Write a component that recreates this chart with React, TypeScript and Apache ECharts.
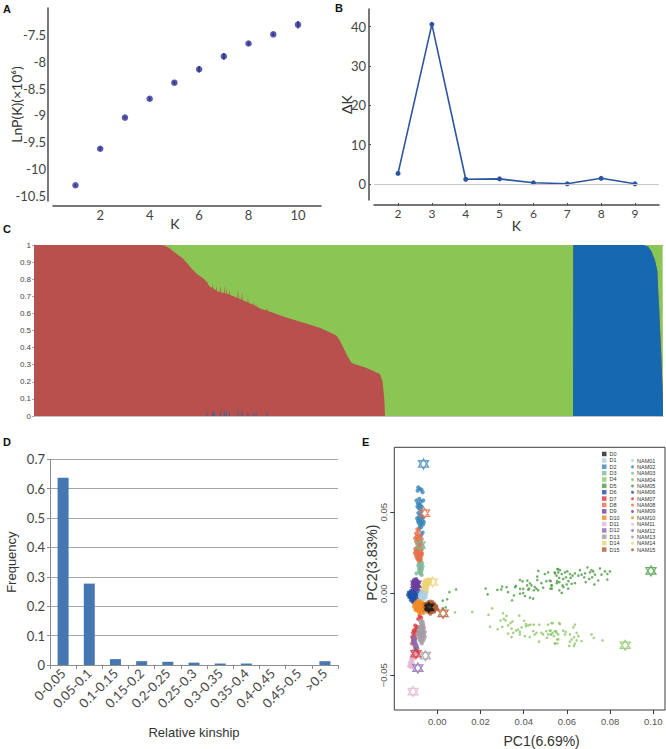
import React, { useEffect, useRef } from "react";
import * as echarts from "echarts";

// Panel A
const kA = [1, 2, 3, 4, 5, 6, 7, 8, 9, 10];
const lnP = [-10.3, -9.62, -9.04, -8.69, -8.39, -8.14, -7.9, -7.66, -7.49, -7.31];
const lnPErr = [0.02, 0.03, 0.02, 0.03, 0.03, 0.06, 0.06, 0.03, 0.03, 0.07];
const yTicksA = [-7.5, -8, -8.5, -9, -9.5, -10, -10.5];
const xTicksA = [2, 4, 6, 8, 10];

// Panel B
const kB = [2, 3, 4, 5, 6, 7, 8, 9];
const deltaK = [2.7, 40.6, 1.2, 1.3, 0.3, 0.05, 1.45, 0.05];
const yTicksB = [0, 10, 20, 30, 40];

// Panel C: sample rank, then the share of each ancestry at that rank (green is the remainder)
const sampleIdx = [
  0, 127, 131, 136, 141, 148, 153, 158, 163, 168, 171,
  172.5, 173, 173.5, 176, 178.2, 178.7, 179.2, 179.8, 180.3, 180.8,
  181.8, 182.3, 182.8, 185.8, 186.3, 186.8, 189.8, 190.3, 190.8,
  191.8, 192.3, 192.8, 195.2, 195.7, 196.2, 199.7,
  203.5, 204, 204.5, 207.5, 208, 208.5, 211.3,
  213.5, 214, 214.5, 219.2, 219.7, 220.2, 221.5, 222, 222.5, 228,
  232.5, 233, 233.5,
  243, 253, 263, 273, 286.3, 299.3, 302.6, 306, 309.3, 312.6, 317.6, 332.6, 346, 348.6, 350.3, 351,
  539, 539.3, 609.3, 614.3, 617.6, 621, 623.3, 624.3, 625, 626, 627.6, 628.6, 629,
];
const blueShare = [
  0, 0, 0, 0, 0, 0, 0, 0, 0, 0, 0,
  0, 0.025, 0, 0, 0, 0.035, 0, 0, 0.03, 0,
  0, 0, 0, 0, 0.045, 0, 0, 0.045, 0,
  0, 0.04, 0, 0, 0.03, 0, 0,
  0, 0.05, 0, 0, 0.045, 0, 0,
  0, 0.025, 0, 0, 0.025, 0, 0, 0.03, 0, 0,
  0, 0.03, 0,
  0, 0, 0, 0, 0, 0, 0, 0, 0, 0, 0, 0, 0, 0, 0, 0,
  0, 1, 1, 0.99, 0.96, 0.91, 0.85, 0.72, 0.65, 0.5, 0.3, 0.15, 0.05,
];
const redShare = [
  1, 1, 0.995, 0.98, 0.955, 0.925, 0.895, 0.86, 0.83, 0.81, 0.795,
  0.78, 0.77, 0.775, 0.755, 0.75, 0.74, 0.745, 0.742, 0.71, 0.74,
  0.735, 0.76, 0.73, 0.725, 0.72, 0.722, 0.72, 0.72, 0.717,
  0.717, 0.71, 0.713, 0.71, 0.71, 0.708, 0.7,
  0.69, 0.695, 0.688, 0.68, 0.68, 0.678, 0.67,
  0.665, 0.665, 0.663, 0.65, 0.64, 0.648, 0.642, 0.625, 0.64, 0.625,
  0.617, 0.605, 0.615,
  0.595, 0.575, 0.557, 0.54, 0.515, 0.48, 0.47, 0.44, 0.4, 0.36, 0.31, 0.28, 0.245, 0.2, 0.1, 0,
  0, 0, 0, 0, 0, 0, 0, 0, 0, 0.02, 0.02, 0, 0,
];
const yTicksC = [0, 0.1, 0.2, 0.3, 0.4, 0.5, 0.6, 0.7, 0.8, 0.9, 1];

// Panel D
const kinshipBins = ["0-0.05", "0.05-0.1", "0.1-0.15", "0.15-0.2", "0.2-0.25", "0.25-0.3", "0.3-0.35", "0.35-0.4", "0.4-0.45", "0.45-0.5", ">0.5"];
const kinshipFreq = [0.637, 0.277, 0.02, 0.013, 0.011, 0.008, 0.005, 0.005, 0, 0, 0.013];

// Panel E
const groupColors = ["#1a1a1a", "#a9cfe4", "#3a86b8", "#7fb89a", "#8cc665", "#4a9a41", "#1f4fa8", "#d8343a", "#e5704a", "#6a3d9a", "#f08a24", "#e2b6d0", "#8a6bb0", "#a39aa3", "#ecd377", "#b35a2a"];
const parentNames = ["D0", "D1", "D2", "D3", "D4", "D5", "D6", "D7", "D8", "D9", "D10", "D11", "D12", "D13", "D14", "D15"];
const parentPoints = [
  [-0.0039, -0.0084], [-0.007, -0.0008], [-0.0064, 0.0796], [-0.0079, 0.0298],
  [0.087, -0.0316], [0.0989, 0.014], [-0.0112, -0.0008], [-0.0099, -0.0368],
  [-0.0059, 0.0494], [-0.0099, 0.0058], [-0.0084, -0.0084], [-0.0112, -0.06],
  [-0.009, -0.0456], [-0.0055, -0.038], [-0.0022, 0.0072], [0.0027, -0.012],
];
const nam01 = [[-0.0082,0.0015],[-0.0072,0.002],[-0.0062,0.0018],[-0.0086,0.0005],[-0.0076,0.0008],[-0.0066,0.0006],[-0.0056,0.0005],[-0.0082,-0.0006],[-0.0072,-0.0006],[-0.0062,-0.0008],[-0.0052,-0.0006],[-0.0076,-0.0018],[-0.0066,-0.002],[-0.0056,-0.0018],[-0.007,-0.003],[-0.006,-0.0032]];
const nam02 = [[-0.0088,0.0652],[-0.008,0.0642],[-0.0091,0.0632],[-0.0068,0.0622],[-0.0073,0.0638],[-0.0065,0.0572],[-0.0083,0.0582],[-0.0096,0.0572],[-0.0075,0.0565],[-0.009,0.0555],[-0.0084,0.0548],[-0.0078,0.0542],[-0.0092,0.0535],[-0.0071,0.0532],[-0.0086,0.0525],[-0.008,0.0518],[-0.0074,0.0505],[-0.0088,0.0495],[-0.0079,0.0482],[-0.0072,0.0475],[-0.0085,0.047],[-0.0093,0.0462],[-0.0067,0.0465],[-0.0076,0.0458],[-0.0083,0.0452],[-0.0089,0.0445],[-0.007,0.0445],[-0.0062,0.044],[-0.0078,0.0438],[-0.0085,0.0432],[-0.0072,0.0428],[-0.0066,0.0425],[-0.008,0.042],[-0.0075,0.0408],[-0.0083,0.0402],[-0.0068,0.0375],[-0.0074,0.036]];
const nam03 = [[-0.008,0.0318],[-0.0072,0.0305],[-0.0086,0.029],[-0.0068,0.029],[-0.0078,0.0195],[-0.0086,0.019],[-0.007,0.0188],[-0.0081,0.018],[-0.0075,0.0175],[-0.0088,0.0172],[-0.0068,0.0168],[-0.0083,0.0162],[-0.0076,0.0158],[-0.0071,0.015],[-0.0085,0.0148],[-0.0079,0.0142],[-0.0074,0.0135],[-0.0082,0.013],[-0.0077,0.0122],[-0.0072,0.0115],[-0.0096,0.0125]];
const nam04 = [[0.0082,-0.0114],[0.0162,-0.0112],[0.0254,-0.009],[0.0237,-0.013],[0.0305,-0.012],[0.0321,-0.0136],[0.0308,-0.0154],[0.0293,-0.0164],[0.0316,-0.0164],[0.0379,-0.0134],[0.0244,-0.0202],[0.0279,-0.0218],[0.0301,-0.0204],[0.0328,-0.0194],[0.0348,-0.017],[0.0339,-0.018],[0.0344,-0.0214],[0.0328,-0.0244],[0.0344,-0.0266],[0.0351,-0.024],[0.0364,-0.0226],[0.0374,-0.022],[0.0382,-0.0234],[0.039,-0.0206],[0.0382,-0.025],[0.0405,-0.026],[0.0428,-0.0266],[0.0402,-0.0166],[0.041,-0.0186],[0.0421,-0.0194],[0.0431,-0.019],[0.0447,-0.019],[0.041,-0.02],[0.0444,-0.023],[0.0459,-0.024],[0.0451,-0.025],[0.0472,-0.019],[0.0482,-0.024],[0.049,-0.025],[0.0471,-0.0294],[0.0513,-0.019],[0.0528,-0.018],[0.0521,-0.0226],[0.0505,-0.023],[0.0513,-0.025],[0.0528,-0.025],[0.0544,-0.023],[0.0552,-0.024],[0.0508,-0.027],[0.0544,-0.0304],[0.0555,-0.028],[0.0564,-0.018],[0.0534,-0.018],[0.0568,-0.0186],[0.0637,-0.019],[0.063,-0.0206],[0.0525,-0.0226],[0.0534,-0.024],[0.055,-0.023],[0.0525,-0.025],[0.054,-0.026],[0.056,-0.025],[0.056,-0.028],[0.0583,-0.0226],[0.0594,-0.0234],[0.0591,-0.025],[0.0614,-0.025],[0.0645,-0.024],[0.0653,-0.026],[0.0633,-0.0266],[0.0622,-0.028],[0.0614,-0.0294],[0.0645,-0.0286],[0.0668,-0.029],[0.0637,-0.0306],[0.0611,-0.032],[0.0633,-0.032],[0.0545,-0.0306],[0.0556,-0.0304],[0.0714,-0.025],[0.0725,-0.027],[0.0765,-0.0286]];
const nam05 = [[0.0087,0.0026],[0.0056,0.001],[0.0046,-0.0034],[0.0025,-0.0042],[0.0039,-0.0084],[0.0025,-0.009],[0.0224,0.0032],[0.0233,-0.0004],[0.0278,0.0024],[0.0296,0.0026],[0.03,0.0044],[0.0321,0.004],[0.0327,0.001],[0.0355,-0.001],[0.0346,-0.004],[0.036,0.004],[0.0364,0.0048],[0.0383,0.003],[0.0398,0.003],[0.0383,0.0084],[0.0395,0.0076],[0.0417,0.008],[0.0429,0.0064],[0.0398,0.0004],[0.0383,0],[0.0406,-0.0014],[0.0429,-0.0024],[0.0444,-0.003],[0.0421,0.0025],[0.0451,0.0041],[0.0436,0.0051],[0.0459,0.0031],[0.0467,0.0021],[0.0463,0.0105],[0.0463,0.0084],[0.0468,0.014],[0.0482,0.0065],[0.0498,0.0121],[0.0513,0.0131],[0.0505,0.0077],[0.0521,0.0081],[0.0528,0.0051],[0.0524,0.0031],[0.049,0.0037],[0.0544,0.0131],[0.0552,0.0111],[0.0559,0.0151],[0.0555,0.0077],[0.0564,0.0097],[0.0416,0.0051],[0.0425,0.0031],[0.0447,0.0021],[0.0545,0.0125],[0.0556,0.0151],[0.0568,0.0145],[0.056,0.0131],[0.0576,0.0121],[0.0591,0.0131],[0.0602,0.0137],[0.0614,0.0121],[0.0626,0.0111],[0.0596,0.0101],[0.0583,0.0091],[0.0607,0.0077],[0.0617,0.0097],[0.0637,0.0125],[0.066,0.0145],[0.0653,0.0111],[0.0668,0.0117],[0.0684,0.0125],[0.0695,0.0161],[0.068,0.0101],[0.0707,0.0131],[0.0714,0.0145],[0.0722,0.0137],[0.0703,0.0091],[0.0717,0.0101],[0.073,0.0117],[0.0753,0.0155],[0.076,0.0117],[0.0776,0.0137],[0.0799,0.0137],[0.0787,0.0121],[0.0787,0.0087],[0.0745,0.0081],[0.0727,0.0057],[0.0687,0.0071],[0.0637,0.0065],[0.0622,0.0061],[0.0599,0.0057],[0.058,0.0051],[0.0565,0.0071],[0.0553,0.0065],[0.0525,0.0077],[0.053,0.0051],[0.053,0.0031],[0.0565,0.0021],[0.0576,0.0005],[0.0606,0.0031],[0.0584,0.0041]];
const nam06 = [[-0.0122,0.0018],[-0.0112,0.0022],[-0.0102,0.0018],[-0.0132,0.0005],[-0.0122,0.0005],[-0.0112,0.0008],[-0.0102,0.0005],[-0.0092,0.0005],[-0.0135,-0.0008],[-0.0125,-0.0006],[-0.0115,-0.0006],[-0.0105,-0.0008],[-0.0095,-0.0008],[-0.0128,-0.0018],[-0.0118,-0.0018],[-0.0108,-0.002],[-0.0098,-0.0018],[-0.012,-0.003],[-0.011,-0.003],[-0.01,-0.003],[-0.0122,-0.004],[-0.0112,-0.0042],[-0.0102,-0.0042],[-0.0112,-0.0052]];
const nam07 = [[-0.0082,-0.0135],[-0.0075,-0.0148],[-0.0088,-0.0155],[-0.0092,-0.0205],[-0.0102,-0.0195],[-0.0098,-0.0215],[-0.0108,-0.0225],[-0.0098,-0.0235],[-0.0112,-0.024],[-0.0105,-0.0255],[-0.0116,-0.0265],[-0.0102,-0.0275],[-0.0112,-0.0285],[-0.0116,-0.0305],[-0.0105,-0.0298],[-0.0106,-0.0348],[-0.0098,-0.0355],[-0.0104,-0.0368],[-0.0092,-0.036],[-0.0098,-0.0378]];
const nam08 = [[-0.0092,0.0395],[-0.0085,0.0385],[-0.0098,0.037],[-0.0088,0.036],[-0.0078,0.0355],[-0.0095,0.035],[-0.0102,0.034],[-0.0084,0.034],[-0.0072,0.0335],[-0.0092,0.033],[-0.0098,0.032],[-0.008,0.0325],[-0.0087,0.0315],[-0.0075,0.031],[-0.0093,0.0305],[-0.0083,0.0295],[-0.0102,0.0275],[-0.0095,0.028],[-0.0088,0.0272],[-0.008,0.0278],[-0.0072,0.027],[-0.0098,0.0262],[-0.009,0.026],[-0.0082,0.0258],[-0.0075,0.0255],[-0.0104,0.025],[-0.0094,0.0248],[-0.0086,0.0245],[-0.0078,0.0242],[-0.007,0.0245],[-0.0098,0.0235],[-0.009,0.0235],[-0.0082,0.023],[-0.0074,0.0232],[-0.0095,0.0222],[-0.0087,0.022],[-0.0079,0.0218],[-0.0091,0.021],[-0.0083,0.0205],[-0.0076,0.0208]];
const nam09 = [[-0.0108,0.0085],[-0.0098,0.009],[-0.0102,0.0078],[-0.0112,0.0072],[-0.0092,0.0078],[-0.0106,0.0065],[-0.0096,0.0065],[-0.0086,0.0068],[-0.0115,0.0058],[-0.0102,0.0055],[-0.009,0.0055],[-0.0108,0.0045],[-0.0097,0.0045],[-0.0086,0.0045],[-0.0112,0.0035],[-0.0102,0.0035],[-0.0092,0.0032],[-0.0098,0.0022],[-0.0088,0.002]];
const nam10 = [[-0.0088,-0.0042],[-0.0078,-0.0045],[-0.0098,-0.0052],[-0.0088,-0.0055],[-0.0078,-0.0055],[-0.0068,-0.0055],[-0.0105,-0.0065],[-0.0095,-0.0066],[-0.0085,-0.0066],[-0.0075,-0.0066],[-0.0065,-0.0068],[-0.0108,-0.0078],[-0.0098,-0.0078],[-0.0088,-0.0078],[-0.0078,-0.0078],[-0.0068,-0.0078],[-0.0102,-0.009],[-0.0092,-0.009],[-0.0082,-0.009],[-0.0072,-0.009],[-0.0062,-0.0088],[-0.0096,-0.0102],[-0.0086,-0.0102],[-0.0076,-0.0102],[-0.0066,-0.0102],[-0.0084,-0.0114],[-0.0074,-0.0116],[-0.0064,-0.0118]];
const nam11 = [[-0.0112,-0.0352],[-0.0105,-0.036],[-0.0118,-0.038],[-0.0108,-0.0385],[-0.0116,-0.0395],[-0.0122,-0.0405],[-0.0112,-0.0405],[-0.0118,-0.042],[-0.0128,-0.0425],[-0.012,-0.0435],[-0.0112,-0.0432],[-0.013,-0.0445],[-0.0122,-0.0448],[-0.0116,-0.045],[-0.0095,-0.0378]];
const nam12 = [[-0.0112,-0.0268],[-0.0104,-0.0278],[-0.0112,-0.029],[-0.0102,-0.0295],[-0.0108,-0.0305],[-0.0098,-0.031],[-0.0105,-0.032],[-0.0095,-0.0322],[-0.0102,-0.0332],[-0.0092,-0.0335],[-0.0098,-0.0345]];
const nam13 = [[-0.0078,-0.0165],[-0.0068,-0.017],[-0.0076,-0.018],[-0.0066,-0.0185],[-0.0074,-0.0195],[-0.0064,-0.0198],[-0.0082,-0.0205],[-0.0072,-0.021],[-0.0062,-0.0212],[-0.0085,-0.022],[-0.0075,-0.0222],[-0.0065,-0.0225],[-0.0088,-0.0235],[-0.0078,-0.0238],[-0.0068,-0.0238],[-0.0058,-0.0235],[-0.0092,-0.0248],[-0.0082,-0.025],[-0.0072,-0.0252],[-0.0062,-0.025],[-0.0088,-0.0262],[-0.0078,-0.0265],[-0.0068,-0.0265],[-0.0058,-0.0262],[-0.0082,-0.0278],[-0.0072,-0.0278],[-0.0062,-0.0278],[-0.0078,-0.029],[-0.0068,-0.0292],[-0.0072,-0.0305]];
const nam14 = [[-0.0052,0.0085],[-0.0042,0.0088],[-0.0032,0.0085],[-0.0062,0.0075],[-0.0052,0.0075],[-0.0042,0.0072],[-0.0032,0.0072],[-0.0062,0.0062],[-0.0052,0.006],[-0.0042,0.006],[-0.0066,0.005],[-0.0056,0.0048],[-0.0046,0.005],[-0.0066,0.0038],[-0.0056,0.0036],[-0.0046,0.0036],[-0.0062,0.0025],[-0.0052,0.0024],[-0.0058,0.0012],[-0.0048,0.0012]];
const nam15 = [[-0.0042,-0.0052],[-0.0032,-0.0048],[-0.0022,-0.0052],[-0.0055,-0.0062],[-0.0045,-0.0062],[-0.0035,-0.0062],[-0.0025,-0.006],[-0.0015,-0.0062],[-0.006,-0.0075],[-0.0005,-0.0075],[-0.0015,-0.0072],[-0.0058,-0.0088],[-0.0048,-0.0088],[-0.0015,-0.0086],[-0.0005,-0.0085],[0,-0.0095],[-0.0052,-0.0098],[-0.0042,-0.01],[-0.0032,-0.0102],[-0.0022,-0.01],[-0.0012,-0.0098],[-0.0045,-0.011],[-0.0035,-0.0112],[-0.0025,-0.0112],[-0.0015,-0.011],[-0.0032,-0.0122]];
const namNames = ["NAM01", "NAM02", "NAM03", "NAM04", "NAM05", "NAM06", "NAM07", "NAM08", "NAM09", "NAM10", "NAM11", "NAM12", "NAM13", "NAM14", "NAM15"];
const namPoints = [nam01, nam02, nam03, nam04, nam05, nam06, nam07, nam08, nam09, nam10, nam11, nam12, nam13, nam14, nam15];
const xTicksE = [0, 0.02, 0.04, 0.06, 0.08, 0.1];
const yTicksE = [-0.05, 0, 0.05];

const STAR = "path://M12 1 L22 19 L2 19 Z M12 23 L2 5 L22 5 Z";
const TICK_FONT = "Lato, sans-serif";
const ARIAL = "'Liberation Sans', Arial, sans-serif";
const AXIS_DARK = "#4a4a4a";

const panelLabel = (text: string, x: number, y: number) => ({
  type: "text",
  x,
  y,
  style: { text, fontFamily: ARIAL, fontWeight: "bold", fontSize: 11, fill: "#111" },
});

function buildOption() {
  const fixed2 = (v: number) => v.toFixed(2).replace("-", "\u2212");
  const series: any[] = [
    {
      type: "custom",
      xAxisIndex: 0,
      yAxisIndex: 0,
      data: kA.map((k, i) => [k, lnP[i] - lnPErr[i], lnP[i] + lnPErr[i]]),
      renderItem: (_p: any, api: any) => {
        const a = api.coord([api.value(0), api.value(1)]);
        const b = api.coord([api.value(0), api.value(2)]);
        return {
          type: "line",
          shape: { x1: a[0], y1: a[1], x2: b[0], y2: b[1] },
          style: { stroke: "#2e2e8f", lineWidth: 1.5 },
        };
      },
      silent: true,
    },
    {
      type: "scatter",
      xAxisIndex: 0,
      yAxisIndex: 0,
      symbolSize: 6.5,
      itemStyle: { color: "#2e2e8f" },
      data: kA.map((k, i) => [k, lnP[i]]),
      silent: true,
    },
    {
      type: "line",
      xAxisIndex: 1,
      yAxisIndex: 1,
      symbol: "circle",
      symbolSize: 5,
      itemStyle: { color: "#2b55a0" },
      lineStyle: { color: "#2b55a0", width: 1.6 },
      data: kB.map((k, i) => [k, deltaK[i]]),
      markLine: {
        silent: true,
        symbol: "none",
        label: { show: false },
        lineStyle: { color: "#c8c8c8", type: "solid", width: 1 },
        data: [{ yAxis: 0 }],
      },
      z: 3,
    },
    // Layered from the back: each area runs up to the cumulative share of its ancestry.
    ...[
      { name: "green", color: "#8bc554", values: sampleIdx.map(() => 1), z: 2 },
      { name: "red", color: "#b8504e", values: sampleIdx.map((_, i) => blueShare[i] + redShare[i]), z: 3 },
      { name: "blue", color: "#1668b0", values: blueShare, z: 4 },
    ].map((s) => ({
      type: "line",
      name: s.name,
      xAxisIndex: 2,
      yAxisIndex: 2,
      symbol: "none",
      lineStyle: { width: 0 },
      areaStyle: { color: s.color, opacity: 1, origin: "start" },
      data: sampleIdx.map((u, i) => [u, s.values[i]]),
      silent: true,
      z: s.z,
    })),
    {
      type: "bar",
      xAxisIndex: 3,
      yAxisIndex: 3,
      barWidth: 11,
      itemStyle: { color: "#4578b3" },
      data: kinshipFreq,
      silent: true,
    },
  ];

  namPoints.forEach((pts, i) => {
    series.push({
      type: "scatter",
      name: namNames[i],
      xAxisIndex: 4,
      yAxisIndex: 4,
      symbol: "circle",
      symbolSize: i === 3 || i === 4 ? 2.6 : 4.2,
      itemStyle: { color: groupColors[i + 1] },
      data: pts,
      silent: true,
      z: 2,
    });
  });
  parentNames.forEach((name, i) => {
    series.push({
      type: "scatter",
      name,
      xAxisIndex: 4,
      yAxisIndex: 4,
      symbol: STAR,
      symbolSize: 10,
      itemStyle: {
        color: i === 0 ? "#111" : "rgba(255,255,255,0)",
        borderColor: groupColors[i],
        borderWidth: 1.3,
      },
      data: [parentPoints[i]],
      silent: true,
      z: 3,
    });
  });

  const gridOf = (left: number, top: number, right: number, bottom: number, extra = {}) => ({
    left,
    top,
    width: right - left,
    height: bottom - top,
    ...extra,
  });

  return {
    animation: false,
    backgroundColor: "#fff",
    textStyle: { fontFamily: TICK_FONT },
    grid: [
      gridOf(53, 8, 321, 201),
      gridOf(374, 9, 659, 200),
      gridOf(34, 245, 663, 416),
      gridOf(50, 459.3, 338, 665),
      gridOf(394.3, 447.3, 665, 715.3, { show: true, borderColor: "#3c3c3c", borderWidth: 1 }),
    ],
    xAxis: [
      {
        gridIndex: 0, type: "value", min: 0.09, max: 10.93, offset: 5,
        name: "K", nameLocation: "middle", nameGap: 10, nameMoveOverlap: false,
        nameTextStyle: { fontFamily: TICK_FONT, fontSize: 14, color: "#333", padding: [0, 24, 0, 0] },
        axisLine: { onZero: false, lineStyle: { color: AXIS_DARK, width: 1.5 } },
        axisTick: { show: false },
        splitLine: { show: false },
        axisLabel: { customValues: xTicksA, fontSize: 13, color: "#444", margin: 2 },
      },
      {
        gridIndex: 1, type: "value", min: 1.29, max: 9.71, offset: 5,
        name: "K", nameLocation: "middle", nameGap: 13, nameMoveOverlap: false,
        nameTextStyle: { fontFamily: TICK_FONT, fontSize: 14, color: "#333" },
        axisLine: { onZero: false, lineStyle: { color: AXIS_DARK, width: 1.5 } },
        axisTick: { show: true, length: 2, inside: true, customValues: kB, lineStyle: { color: AXIS_DARK } },
        splitLine: { show: false },
        axisLabel: { customValues: kB, fontSize: 12, color: "#444", margin: 2 },
      },
      {
        gridIndex: 2, type: "value", min: 0, max: 629, position: "bottom",
        axisLine: { onZero: false, lineStyle: { color: "#c0c0c0", width: 1 } },
        axisTick: { show: false }, axisLabel: { show: false }, splitLine: { show: false },
      },
      {
        gridIndex: 3, type: "category", data: kinshipBins,
        name: "Relative kinship", nameLocation: "middle", nameGap: 61, nameMoveOverlap: false,
        nameTextStyle: { fontFamily: ARIAL, fontSize: 13, color: "#333" },
        axisLine: { lineStyle: { color: "#8c8c8c" } },
        axisTick: { show: true, length: 4, alignWithLabel: false, lineStyle: { color: "#8c8c8c" } },
        axisLabel: { interval: 0, rotate: 45, fontFamily: TICK_FONT, fontSize: 13, color: "#444", margin: 6 },
      },
      {
        gridIndex: 4, type: "value", min: -0.0199, max: 0.1054,
        name: "PC1(6.69%)", nameLocation: "middle", nameGap: 24, nameMoveOverlap: false,
        nameTextStyle: { fontFamily: ARIAL, fontSize: 14, color: "#333", padding: [0, 0, 0, 24] },
        axisLine: { show: false, onZero: false },
        axisTick: { show: true, length: 4, customValues: xTicksE, lineStyle: { color: "#3c3c3c" } },
        splitLine: { show: false },
        axisLabel: { customValues: xTicksE, formatter: fixed2, fontFamily: ARIAL, fontSize: 9.5, color: "#555", margin: 6 },
      },
      {
        gridIndex: 2, type: "value", min: 0, max: 629, position: "top",
        axisLine: { onZero: false, lineStyle: { color: "#a8a8a8", width: 1 } },
        axisTick: { show: false }, axisLabel: { show: false }, splitLine: { show: false },
      },
    ],
    yAxis: [
      {
        gridIndex: 0, type: "value", min: -10.593, max: -7.0, offset: 5,
        name: "LnP(K)(×10⁶)", nameLocation: "middle", nameGap: 25, nameMoveOverlap: false,
        nameTextStyle: { fontFamily: TICK_FONT, fontSize: 14, color: "#333" },
        axisLine: { show: true, onZero: false, lineStyle: { color: AXIS_DARK, width: 1.5 } },
        axisTick: { show: false },
        splitLine: { show: false },
        axisLabel: { customValues: yTicksA, fontSize: 13, color: "#444", margin: 2 },
      },
      {
        gridIndex: 1, type: "value", min: -4.07, max: 44.5, offset: 5,
        name: "ΔK", nameLocation: "middle", nameGap: 16, nameMoveOverlap: false,
        nameTextStyle: { fontFamily: TICK_FONT, fontSize: 14, color: "#333" },
        axisLine: { show: true, onZero: false, lineStyle: { color: AXIS_DARK, width: 1.5 } },
        axisTick: { show: true, length: 2, inside: true, customValues: yTicksB, lineStyle: { color: AXIS_DARK } },
        splitLine: { show: false },
        axisLabel: { customValues: yTicksB, fontSize: 13, color: "#444", margin: 3 },
      },
      {
        gridIndex: 2, type: "value", min: 0, max: 1, interval: 0.1,
        axisLine: { show: true, onZero: false, lineStyle: { color: "#a8a8a8" } },
        axisTick: { show: true, length: 2, lineStyle: { color: "#a8a8a8" } },
        splitLine: { show: false },
        axisLabel: { fontSize: 8, color: "#444", margin: 3, fontFamily: ARIAL, customValues: yTicksC },
      },
      {
        gridIndex: 3, type: "value", min: 0, max: 0.7, interval: 0.1,
        name: "Frequency", nameLocation: "middle", nameGap: 32, nameMoveOverlap: false,
        nameTextStyle: { fontFamily: ARIAL, fontSize: 13, color: "#333" },
        axisLine: { show: true, onZero: false, lineStyle: { color: "#8c8c8c" } },
        axisTick: { show: true, length: 3, lineStyle: { color: "#8c8c8c" } },
        splitLine: { show: true, lineStyle: { color: "#a6a6a6", width: 1 } },
        axisLabel: { fontSize: 13, color: "#444", margin: 5 },
      },
      {
        gridIndex: 4, type: "value", min: -0.0713, max: 0.0898,
        name: "PC2(3.83%)", nameLocation: "middle", nameGap: 15, nameMoveOverlap: false,
        nameTextStyle: { fontFamily: ARIAL, fontSize: 14, color: "#333", padding: [0, 0, 0, 32] },
        axisLine: { show: false, onZero: false },
        axisTick: { show: true, length: 4, customValues: yTicksE, lineStyle: { color: "#3c3c3c" } },
        splitLine: { show: false },
        axisLabel: { customValues: yTicksE, formatter: fixed2, rotate: 90, fontFamily: ARIAL, fontSize: 9.5, color: "#555", margin: 6 },
      },
    ],
    series,
    legend: [
      {
        left: 602, top: 451, padding: 0, orient: "vertical", selectedMode: false,
        itemWidth: 4.5, itemHeight: 4.5, itemGap: 0.37,
        textStyle: { fontFamily: ARIAL, fontSize: 5.5, color: "#333", padding: [0, 0, 0, -2] },
        data: parentNames.map((name, i) => ({ name, icon: "rect", itemStyle: { color: groupColors[i], borderWidth: 0 } })),
      },
      {
        left: 631, top: 457.5, padding: 0, orient: "vertical", selectedMode: false,
        itemWidth: 3, itemHeight: 3, itemGap: 0.37,
        textStyle: { fontFamily: ARIAL, fontSize: 5.5, color: "#333", padding: [0, 0, 0, -2] },
        data: namNames.map((name) => ({ name, icon: "circle" })),
      },
    ],
    graphic: [
      panelLabel("A", 3, 3),
      panelLabel("B", 335, 2),
      panelLabel("C", 3, 223),
      panelLabel("D", 3, 436),
      panelLabel("E", 362, 436),
    ],
  };
}

export default function App() {
  const ref = useRef<HTMLDivElement>(null);
  useEffect(() => {
    const chart = echarts.init(ref.current!, undefined, { renderer: "svg" });
    chart.setOption(buildOption() as any);
    return () => chart.dispose();
  }, []);
  return <div ref={ref} style={{ position: "absolute", left: 0, top: 0, width: 666, height: 749 }} />;
}
